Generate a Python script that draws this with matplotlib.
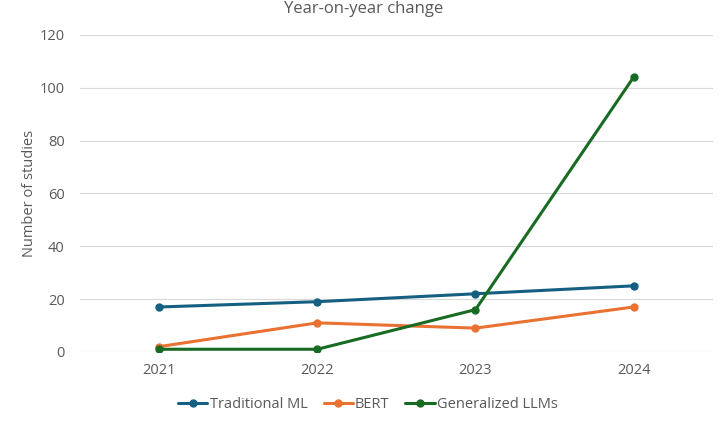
import matplotlib
matplotlib.use("Agg")
import matplotlib.pyplot as plt

years = ["2021", "2022", "2023", "2024"]
traditional_ml = [17, 19, 22, 25]
bert = [2, 11, 9, 17]
llms = [1, 1, 16, 104]
series_names = ["Traditional ML", "BERT", "Generalized LLMs"]
colors = ["#156082", "#E97132", "#196B24"]

plt.rcParams['font.family'] = ['Open Sans', 'DejaVu Sans']

fig = plt.figure(figsize=(7.28, 4.25), dpi=100)
ax = fig.add_axes([0.110, 0.172, 0.869, 0.746])
x = list(range(len(years)))
for vals, name, c in zip([traditional_ml, bert, llms], series_names, colors):
    ax.plot(x, vals, color=c, lw=2.2, marker='o', markersize=5, label=name,
            solid_capstyle='round')

ax.set_xlim(-0.5, 3.5)
ax.set_ylim(0, 120)
ax.set_yticks(range(0, 121, 20))
ax.set_xticks(x)
ax.set_xticklabels(years)
ax.grid(axis='y', color='#D9D9D9', lw=0.8)
ax.set_axisbelow(True)
for s in ax.spines.values():
    s.set_visible(False)
ax.tick_params(length=0, colors='#595959', labelsize=10.5, pad=8)
ax.tick_params(axis='y', pad=11)
ax.set_ylabel("Number of studies", color='#595959', fontsize=10.5, labelpad=2)
fig.text(0.5, 0.998, "Year-on-year change", ha='center', va='top',
         fontsize=12, color='#595959')
ax.legend(loc='upper center', bbox_to_anchor=(0.455, -0.1), ncol=3, frameon=False,
          fontsize=10.5, labelcolor='#595959', handlelength=2.0, handletextpad=0.15,
          columnspacing=1.1)
fig.savefig("out.png", dpi=100)
